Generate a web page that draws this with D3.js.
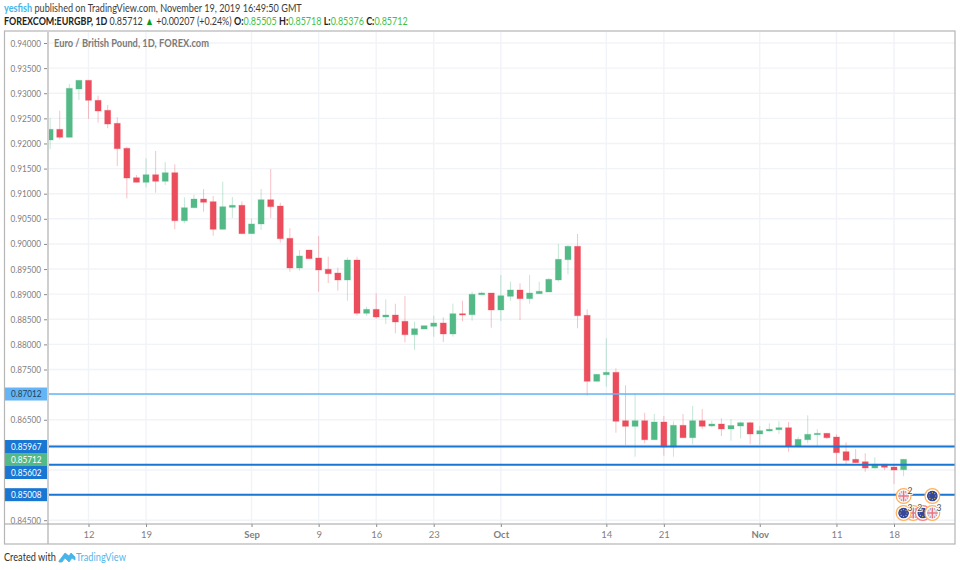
<!DOCTYPE html>
<meta charset="utf-8">
<style>
    body { margin: 0; background: #fff; }
    svg { display: block; font-family: Lato, sans-serif; }
    .priceAxis text, .timeAxis text { font-size: 9.5px; fill: #7f7f7f; font-family: Lato, sans-serif; }
    .priceAxis line, .timeAxis line { stroke: #8a8a8a; }
    .priceAxis path, .timeAxis path { display: none; }
    .grid line { stroke: #f0f3f8; stroke-width: 1.4; }
    .header { font-size: 11px; fill: #3c3c3c; }
    .priceTag { font-size: 9.5px; font-family: Lato, sans-serif; }
</style>

<svg width="960" height="570"></svg>
<script src="https://d3js.org/d3.v7.min.js"></script>
<script>
    // Data
    var firstBar = -4; // bar 0 is Aug 12
    var opens = [0.92069,0.92282,0.92123,0.93084,0.93257,0.92859,0.92660,0.92401,0.91904,0.91318,
        0.91227,0.91378,0.91247,0.91418,0.90462,0.90721,0.90894,0.90841,0.90291,0.90729,
        0.90769,0.90204,0.90397,0.90880,0.90755,0.90112,0.89521,0.89879,0.89720,0.89495,
        0.89421,0.89282,0.89680,0.88619,0.88698,0.88545,0.88585,0.88460,0.88193,0.88306,
        0.88360,0.88426,0.88207,0.88611,0.88591,0.88989,0.89023,0.88685,0.88957,0.89083,
        0.88910,0.89009,0.89043,0.89282,0.89686,0.89953,0.88579,0.87265,0.87396,0.87444,
        0.86481,0.86369,0.86481,0.86102,0.86455,0.85957,0.86389,0.86142,0.86481,0.86375,
        0.86415,0.86316,0.86375,0.86441,0.86216,0.86276,0.86302,0.86341,0.85977,0.86102,
        0.86202,0.86230,0.86156,0.85864,0.85712,0.85664,0.85539,0.85613,0.85559,0.85505];
    var highs = [0.92507,0.92652,0.93184,0.93257,0.93257,0.92951,0.92766,0.92521,0.91936,0.91372,
        0.91705,0.91850,0.91631,0.91585,0.90928,0.90980,0.91093,0.90954,0.91239,0.90934,
        0.90848,0.90510,0.91093,0.91492,0.90821,0.90311,0.89879,0.89879,0.90158,0.89746,
        0.89527,0.89734,0.89746,0.88750,0.89017,0.88898,0.88810,0.88963,0.88452,0.88372,
        0.88571,0.88539,0.88810,0.88870,0.89049,0.89049,0.89023,0.89381,0.89248,0.89216,
        0.89381,0.89248,0.89316,0.89998,0.89978,0.90198,0.88699,0.87404,0.88121,0.87524,
        0.87186,0.87026,0.86640,0.86614,0.86574,0.86469,0.86614,0.86773,0.86714,0.86475,
        0.86528,0.86515,0.86461,0.86461,0.86375,0.86429,0.86469,0.86455,0.86162,0.86588,
        0.86316,0.86230,0.86210,0.86051,0.85911,0.85832,0.85752,0.85613,0.85599,0.85718];
    var lows = [0.91890,0.92083,0.92123,0.92865,0.92487,0.92413,0.92302,0.91551,0.90908,0.91227,
        0.91127,0.91020,0.91173,0.90291,0.90411,0.90721,0.90642,0.90164,0.90291,0.90516,
        0.90204,0.90204,0.90277,0.90516,0.90024,0.89447,0.89467,0.89706,0.89049,0.89222,
        0.89069,0.88870,0.88571,0.88571,0.88511,0.88406,0.88221,0.88041,0.87888,0.88306,
        0.88153,0.88047,0.88153,0.88460,0.88471,0.88977,0.88332,0.88466,0.88870,0.88485,
        0.88810,0.89009,0.89043,0.89248,0.89395,0.88320,0.86978,0.87265,0.87158,0.86242,
        0.85997,0.85764,0.86031,0.86102,0.85784,0.85764,0.86142,0.86011,0.86316,0.86349,
        0.86176,0.86083,0.86130,0.86017,0.85997,0.86262,0.86216,0.85864,0.85951,0.86031,
        0.85983,0.86116,0.85599,0.85593,0.85645,0.85465,0.85525,0.85499,0.85220,0.85376];
    var closes = [0.92282,0.92123,0.93098,0.93257,0.92859,0.92646,0.92387,0.91896,0.91312,0.91227,
        0.91378,0.91247,0.91418,0.90462,0.90721,0.90894,0.90829,0.90291,0.90741,0.90769,
        0.90204,0.90397,0.90880,0.90741,0.90104,0.89521,0.89760,0.89706,0.89481,0.89407,
        0.89282,0.89680,0.88619,0.88698,0.88545,0.88585,0.88446,0.88193,0.88312,0.88372,
        0.88426,0.88207,0.88611,0.88585,0.88997,0.89023,0.88685,0.88969,0.89083,0.88910,
        0.89023,0.89057,0.89296,0.89694,0.89953,0.88571,0.87265,0.87404,0.87444,0.86469,
        0.86369,0.86481,0.86102,0.86455,0.85957,0.86389,0.86142,0.86481,0.86369,0.86415,
        0.86316,0.86385,0.86441,0.86216,0.86282,0.86310,0.86341,0.85977,0.86110,0.86210,
        0.86230,0.86142,0.85844,0.85692,0.85645,0.85539,0.85613,0.85553,0.85499,0.85712];

    var priceTicks = [0.845,0.85,0.855,0.86,0.865,0.87,0.875,0.88,0.885,0.89,0.895,0.9,0.905,0.91,0.915,0.92,0.925,0.93,0.935,0.94];
    // 0.850, 0.855, 0.860 and 0.870 sit under price tags in the picture
    var labelledTicks = [0.845,0.865,0.875,0.88,0.885,0.89,0.895,0.9,0.905,0.91,0.915,0.92,0.925,0.93,0.935,0.94];
    var timeTickBars = [0,6,17,24,30,36,43,54,60,70,78,84];
    var timeTickLabels = ["12","19","Sep","9","16","23","Oct","14","21","Nov","11","18"];

    // horizontal levels on the chart, and the last price tag
    var levelPrices = [0.87012,0.85967,0.85602,0.85008];
    var levelColors = ["#64b5f6","#1976d2","#1976d2","#1976d2"];
    var tagPrices = [0.87012,0.85967,0.85712,0.85602,0.85008];
    var tagColors = ["#64b5f6","#1976d2","#53b987","#1976d2","#1976d2"];
    var tagText = ["#24405a","#fff","#fff","#fff","#fff"];

    // economic event markers
    var eventBars = [85,88,86,85,87,88];
    var eventRows = [0,0,1,1,1,1];
    var eventFlags = ["uk","eu","uk","eu","eu","uk"];
    var eventCounts = ["2","","2","3","","3"];

    var green = "#53b987", red = "#eb4d5c";

    var svg = d3.select("svg"),
        width = +svg.attr("width"),
        height = +svg.attr("height");

    var plotLeft = 48, plotRight = 955, plotTop = 32, plotBottom = 524, frameBottom = 544;

    var x = d3.scaleLinear().domain([0,84]).range([88.5,894]);
    var y = d3.scaleLinear().domain([0.845,0.94]).range([520.2,43]);

    // the picture's font runs narrower than anything installed
    function fit(sel, w) {
        sel.attr("textLength", w).attr("lengthAdjust", "spacingAndGlyphs");
    }
    // same, for a line made of tspans: squeeze the whole line
    function squeeze(sel, left, base, w) {
        var k = w / sel.node().getComputedTextLength();
        sel.attr("transform", "translate(" + left + "," + base + ") scale(" + k + ",1)");
    }

    var defs = svg.append("defs");
    defs.append("clipPath").attr("id","plotClip").append("rect")
        .attr("x",plotLeft).attr("y",plotTop)
        .attr("width",plotRight-plotLeft).attr("height",plotBottom-plotTop);
    defs.append("clipPath").attr("id","flagClip").append("circle").attr("r",5.5);

    // Grid
    var grid = svg.append("g").attr("class","grid").attr("clip-path","url(#plotClip)");
    grid.selectAll(".h").data(priceTicks).enter().append("line")
        .attr("x1",plotLeft).attr("x2",plotRight)
        .attr("y1",function(d){ return y(d); }).attr("y2",function(d){ return y(d); });
    grid.selectAll(".v").data(timeTickBars).enter().append("line")
        .attr("y1",plotTop).attr("y2",plotBottom)
        .attr("x1",function(d){ return x(d); }).attr("x2",function(d){ return x(d); });

    var plot = svg.append("g").attr("clip-path","url(#plotClip)");

    // Candles
    var bars = d3.range(opens.length);
    function barColor(i){ return closes[i] >= opens[i] ? green : red; }

    plot.selectAll(".wick").data(bars).enter().append("line")
        .attr("class","wick")
        .attr("x1",function(i){ return x(i+firstBar); })
        .attr("x2",function(i){ return x(i+firstBar); })
        .attr("y1",function(i){ return y(highs[i]); })
        .attr("y2",function(i){ return y(lows[i]); })
        .attr("stroke",barColor)
        .attr("stroke-opacity",0.35)
        .attr("stroke-width",1);

    plot.selectAll(".body").data(bars).enter().append("rect")
        .attr("class","body")
        .attr("x",function(i){ return x(i+firstBar)-3; })
        .attr("width",6)
        .attr("y",function(i){ return y(Math.max(opens[i],closes[i])); })
        .attr("height",function(i){ return Math.max(1,Math.abs(y(opens[i])-y(closes[i]))); })
        .attr("fill",barColor)
        .attr("stroke",barColor)
        .attr("stroke-opacity",0.3)
        .attr("stroke-width",1);

    // Horizontal levels
    plot.selectAll(".level").data(levelPrices).enter().append("line")
        .attr("x1",plotLeft).attr("x2",plotRight)
        .attr("y1",function(d){ return y(d); }).attr("y2",function(d){ return y(d); })
        .attr("stroke",function(d,i){ return levelColors[i]; })
        .attr("stroke-width",function(d,i){ return i == 0 ? 1.3 : 2; });

    // Event markers
    var marker = plot.selectAll(".event").data(eventBars).enter().append("g")
        .attr("class","event")
        .attr("transform",function(d,i){
            return "translate(" + x(d) + "," + (496 + eventRows[i]*17) + ")";
        });
    marker.append("circle").attr("r",7.4).attr("fill","#fff")
        .attr("stroke",function(d,i){ return i == 4 ? "#f77c80" : "#ffb05c"; })
        .attr("stroke-width",1.2);
    marker.each(function(d,i){
        var g = d3.select(this).append("g").attr("clip-path","url(#flagClip)");
        if (eventFlags[i] == "eu") {
            g.append("circle").attr("r",5.5).attr("fill","#34479c");
            g.selectAll("circle.star").data(d3.range(8)).enter().append("circle")
                .attr("class","star").attr("r",0.55).attr("fill","#d9c34a")
                .attr("cx",function(k){ return 3.4*Math.cos(k*Math.PI/4); })
                .attr("cy",function(k){ return 3.4*Math.sin(k*Math.PI/4); });
        } else {
            g.attr("opacity",0.8);
            g.append("circle").attr("r",5.5).attr("fill","#7f8fc2");
            g.append("path").attr("d","M-6,-6L6,6M-6,6L6,-6").attr("stroke","#f6d5da").attr("stroke-width",1.6);
            g.append("path").attr("d","M0,-6V6M-6,0H6").attr("stroke","#fff").attr("stroke-width",3);
            g.append("path").attr("d","M0,-6V6M-6,0H6").attr("stroke","#e2505f").attr("stroke-width",1.6);
        }
    });
    plot.selectAll(".eventCount").data(eventCounts).enter().append("text")
        .attr("class","eventCount")
        .attr("x",function(d,i){ return x(eventBars[i])+6.5; })
        .attr("y",function(d,i){ return 494 + eventRows[i]*17; })
        .attr("text-anchor","middle")
        .style("font-size","8.5px").style("paint-order","stroke")
        .attr("stroke","#fff").attr("stroke-width",1.5).attr("fill","#4a4a4a")
        .text(function(d){ return d; });

    // Axes
    var priceAxis = svg.append("g").attr("class","priceAxis")
        .attr("transform","translate(" + (plotLeft-1) + ",0)")
        .call(d3.axisLeft(y).tickValues(labelledTicks).tickSize(3).tickPadding(3).tickFormat(d3.format(".5f")));
    fit(priceAxis.selectAll("text"), 30.5);

    svg.append("g").attr("class","timeAxis")
        .attr("transform","translate(0," + plotBottom + ")")
        .call(d3.axisBottom(x).tickValues(timeTickBars).tickSize(3).tickPadding(4)
            .tickFormat(function(d,i){ return timeTickLabels[i]; }))
        .selectAll("text")
        .attr("font-weight",function(d,i){ return isNaN(+timeTickLabels[i]) ? "bold" : null; });

    // Price tags; a tag that would overlap the one above it moves down
    var tagY = [];
    tagPrices.forEach(function(p,i){
        var c = y(p);
        tagY.push(i > 0 ? Math.max(c, tagY[i-1]+13) : c);
    });
    var tag = svg.selectAll(".tag").data(tagPrices).enter().append("g")
        .attr("class","tag")
        .attr("transform",function(d,i){ return "translate(5," + tagY[i] + ")"; });
    tag.append("rect").attr("x",0).attr("y",-6.5).attr("width",43).attr("height",13)
        .attr("fill",function(d,i){ return tagColors[i]; });
    var tagLabel = tag.append("text").attr("class","priceTag")
        .attr("x",36.5).attr("dy","0.34em").attr("text-anchor","end")
        .attr("fill",function(d,i){ return tagText[i]; })
        .text(d3.format(".5f"));
    fit(tagLabel, 30.5);

    // Frame
    svg.append("line").attr("x1",48).attr("x2",48).attr("y1",plotTop).attr("y2",frameBottom)
        .attr("stroke","#cfcfcf").attr("stroke-width",2);
    svg.append("line").attr("x1",5).attr("x2",plotRight).attr("y1",plotBottom).attr("y2",plotBottom)
        .attr("stroke","#a0a0a0").attr("stroke-width",1);
    svg.append("rect").attr("x",4.5).attr("y",31).attr("width",plotRight-4.5).attr("height",frameBottom-31)
        .attr("fill","none").attr("stroke","#b5b5b5").attr("stroke-width",1.2);

    // Chart title
    var title = svg.append("text")
        .style("font-size","10.5px").style("font-weight",700).attr("fill","#7a7a7a")
        .text("Euro / British Pound, 1D, FOREX.com");
    squeeze(title, 54, 47, 155);

    // Header lines
    var line1 = svg.append("text").attr("class","header");
    line1.append("tspan").attr("fill","#45b5ea").style("font-weight",700).text("yesfish");
    line1.append("tspan").text(" published on TradingView.com, November 19, 2019 16:49:50 GMT");
    squeeze(line1, 4, 12, 298);

    var line2 = svg.append("text").attr("class","header");
    function bold(t){ line2.append("tspan").style("font-weight",700).attr("fill","#222").text(t); }
    function val(t){ line2.append("tspan").attr("fill","#3fc24a").text(t); }
    bold("FOREXCOM:EURGBP, 1D ");
    line2.append("tspan").text(" 0.85712 ");
    line2.append("tspan").attr("fill","#0a9a1e").text("▲");
    line2.append("tspan").text(" +0.00207 (+0.24%) ");
    bold("O:"); val("0.85505 ");
    bold("H:"); val("0.85718 ");
    bold("L:"); val("0.85376 ");
    bold("C:"); val("0.85712");
    squeeze(line2, 4, 25, 404);

    // Footer
    var created = svg.append("text").style("font-size","10.5px").attr("fill","#333").text("Created with");
    squeeze(created, 4, 561, 52);
    svg.append("path")
        .attr("d","M59,561 L65,553 L69,556 L71,553 L75,557 L75,560 L72,558 L69,562 L65,558 L62,562 L59,562 Z")
        .attr("fill","#45b5ea").attr("stroke","#45b5ea").attr("stroke-width",0.8);
    var brand = svg.append("text").style("font-size","10.5px").attr("fill","#54b8ea").text("TradingView");
    squeeze(brand, 76, 561, 50);
</script>
